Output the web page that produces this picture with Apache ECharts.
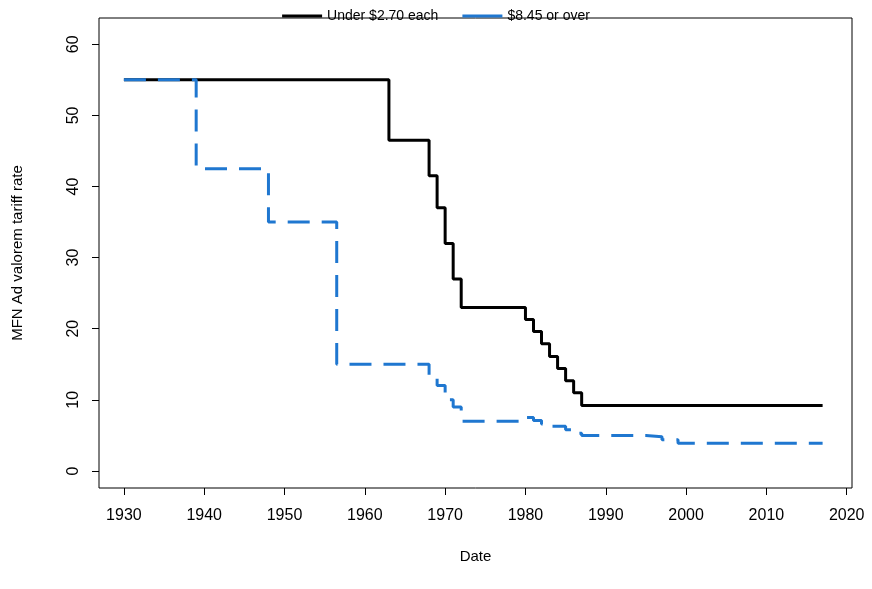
<!DOCTYPE html><html><head><script src="https://cdn.jsdelivr.net/npm/echarts@6/dist/echarts.min.js"></script></head><body style="margin:0"><div id="c" style="width:872px;height:589px"></div><script>
const underYears=[1930,1963,1968,1969,1970,1971,1972,1980,1981,1982,1983,1984,1985,1986,1987,2017];
const underRates=[55,46.5,41.5,37,32,27,23,21.3,19.6,17.9,16.1,14.4,12.7,11,9.2,9.2];
const overYears=[1930,1939,1948,1956.5,1968,1969,1970,1971,1972,1980,1981,1982,1983,1985,1986,1987,1995,1997,1999,2017];
const overRates=[55,42.5,35,15,13,12,10,9,7,7.5,7.1,6.6,6.3,5.8,5.3,5,4.8,4.4,3.9,3.9];
const xTicks=[1930,1940,1950,1960,1970,1980,1990,2000,2010,2020];
const yTicks=[0,10,20,30,40,50,60];
const pair=(a,b)=>a.map((v,i)=>[v,b[i]]);
const ff='Liberation Sans';
const ch=echarts.init(document.getElementById('c'));
ch.setOption({animation:false,textStyle:{fontFamily:ff},
grid:{left:99,right:20,top:18,bottom:101,show:true,borderColor:'#000',borderWidth:1,containLabel:false,outerBoundsMode:'none'},
legend:{top:-1,left:'center',itemWidth:40,itemGap:24,textStyle:{fontSize:14,color:'#000',fontFamily:ff},
 data:[{name:'Under $2.70 each',icon:'path://M0,0H40V3H0Z'},{name:'$8.45 or over',icon:'path://M0,0H40V3H0Z'}]},
xAxis:{type:'value',min:1926.9,max:2020.66,name:'Date',nameLocation:'middle',nameGap:56,nameTextStyle:{fontSize:15,color:'#000'},
 splitLine:{show:false},axisLine:{show:false,onZero:false},
 axisTick:{show:true,length:7,customValues:xTicks,lineStyle:{color:'#000'}},
 axisLabel:{customValues:xTicks,fontSize:16,color:'#000',margin:14,formatter:v=>String(v)}},
yAxis:{type:'value',min:-2.4,max:63.7,name:'MFN Ad valorem tariff rate',nameLocation:'middle',nameGap:68,nameTextStyle:{fontSize:15,color:'#000'},
 splitLine:{show:false},axisLine:{show:false,onZero:false},
 axisTick:{show:true,length:7,customValues:yTicks,lineStyle:{color:'#000'}},
 axisLabel:{customValues:yTicks,fontSize:16,color:'#000',rotate:90,margin:12}},
series:[
{name:'Under $2.70 each',type:'line',step:'end',symbol:'none',data:pair(underYears,underRates),lineStyle:{color:'#000',width:3},itemStyle:{color:'#000'}},
{name:'$8.45 or over',type:'line',step:'end',symbol:'none',data:pair(overYears,overRates),lineStyle:{color:'#1f77d0',width:3,type:[22,12]},itemStyle:{color:'#1f77d0'}}
]});
</script></body></html>
